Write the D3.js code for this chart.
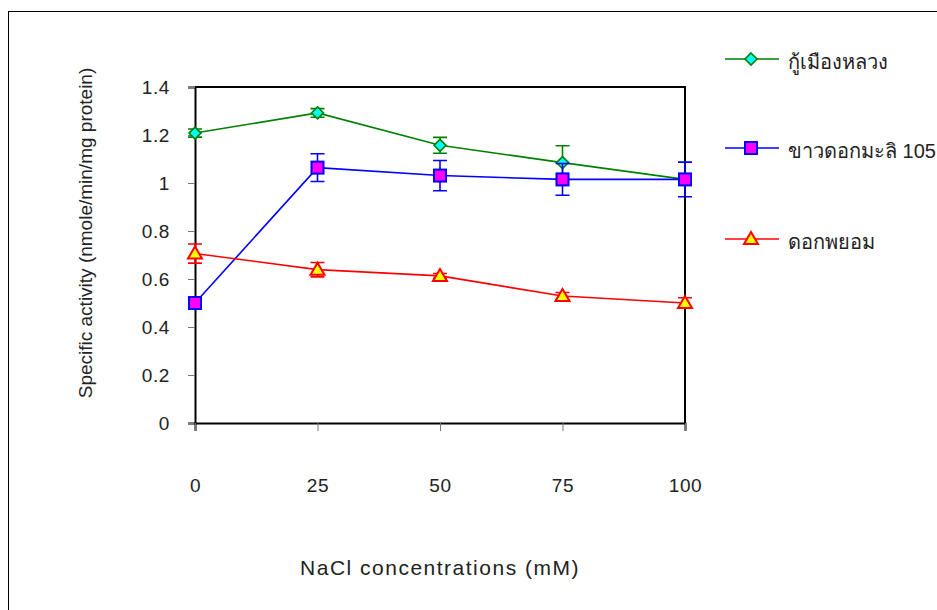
<!DOCTYPE html>
<html>
<head>
<meta charset="utf-8">
<script src="https://cdn.jsdelivr.net/npm/d3@7"></script>
<style>
  body { margin: 0; background: #fff; }
  text { font-family: "Liberation Sans", Arial, sans-serif; fill: #222; }
</style>
</head>
<body>
<script>
'use strict';

// x categories (NaCl mM)
const nacl = [0, 25, 50, 75, 100];
const yTicks = [0, 0.2, 0.4, 0.6, 0.8, 1, 1.2, 1.4];

// series names
const names = ["กู้เมืองหลวง", "ขาวดอกมะลิ 105", "ดอกพยอม"];

// means
const kmlValues = [1.208, 1.292, 1.157, 1.085, 1.015];
const kdmlValues = [0.500, 1.064, 1.031, 1.015, 1.015];
const dpyValues = [0.706, 0.639, 0.613, 0.529, 0.500];

// error (+/-)
const kmlErr = [0.017, 0.018, 0.033, 0.07, 0.01];
const kdmlErr = [0.01, 0.058, 0.063, 0.066, 0.072];
const dpyErr = [0.04, 0.03, 0.01, 0.015, 0.022];

(function () {
  let svg = d3.select('body')
    .append('svg')
    .attr('width', 937)
    .attr('height', 610);

  // outer frame
  svg.append('rect')
    .attr('x', 8.5)
    .attr('y', 11.5)
    .attr('width', 940)
    .attr('height', 610)
    .attr('fill', 'none')
    .attr('stroke', '#000')
    .attr('stroke-width', 1);

  let xScale = d3.scaleLinear().domain([0, 100]).range([195, 685]);
  let yScale = d3.scaleLinear().domain([0, 1.4]).range([423, 87]);

  // frame of plot area (top & right)
  svg.append('path')
    .attr('d', `M${xScale(0)},${yScale(1.4)}H${xScale(100)}V${yScale(0)}`)
    .attr('fill', 'none')
    .attr('stroke', '#000')
    .attr('stroke-width', 2);

  // y axis
  let yAxis = d3.axisLeft(yScale).tickValues(yTicks).tickSize(7).tickPadding(18)
    .tickFormat(d3.format('~g'));
  let gy = svg.append('g')
    .attr('transform', `translate(${xScale(0)},0)`)
    .call(yAxis);
  gy.select('.domain').attr('stroke', '#000').attr('stroke-width', 2);
  gy.selectAll('.tick line').attr('stroke', '#777');
  gy.selectAll('.tick text')
    .style('font-size', '19px')
    .style('font-family', '"Liberation Sans", Arial, sans-serif')
    .style('letter-spacing', '0.6px')
    .attr('fill', '#222');

  // x axis
  let xAxis = d3.axisBottom(xScale).tickValues(nacl).tickSize(8).tickPadding(48);
  let gx = svg.append('g')
    .attr('transform', `translate(0,${yScale(0)})`)
    .call(xAxis);
  gx.select('.domain').attr('stroke', '#000').attr('stroke-width', 2);
  gx.selectAll('.tick line').attr('stroke', '#777');
  gx.selectAll('.tick text')
    .style('font-size', '19px')
    .style('font-family', '"Liberation Sans", Arial, sans-serif')
    .style('letter-spacing', '0.6px')
    .attr('fill', '#222');

  // axis titles
  svg.append('text')
    .attr('x', 440)
    .attr('y', 575)
    .attr('text-anchor', 'middle')
    .style('font-size', '21px')
    .style('letter-spacing', '1.5px')
    .text('NaCl concentrations (mM)');

  svg.append('text')
    .attr('transform', 'translate(92, 233)rotate(-90)')
    .attr('text-anchor', 'middle')
    .style('font-size', '19px')
    .text('Specific activity (nmole/min/mg protein)');

  let series = [
    { name: names[0], values: kmlValues, err: kmlErr, line: '#008000', fill: '#00ffff', shape: 'diamond' },
    { name: names[1], values: kdmlValues, err: kdmlErr, line: '#0000ff', fill: '#ff00ff', shape: 'square' },
    { name: names[2], values: dpyValues, err: dpyErr, line: '#ff0000', fill: '#ffff00', shape: 'triangle' }
  ];

  let line = d3.line()
    .x((d, i) => xScale(nacl[i]))
    .y((d) => yScale(d));

  function drawMarker(g, s, x, y) {
    if (s.shape === 'diamond') {
      g.append('path')
        .attr('d', `M${x},${y - 6}L${x + 6},${y}L${x},${y + 6}L${x - 6},${y}Z`)
        .attr('fill', s.fill).attr('stroke', s.line).attr('stroke-width', 1.6);
    } else if (s.shape === 'square') {
      g.append('rect')
        .attr('x', x - 6).attr('y', y - 6).attr('width', 12).attr('height', 12)
        .attr('fill', s.fill).attr('stroke', s.line).attr('stroke-width', 2);
    } else {
      g.append('path')
        .attr('d', `M${x},${y - 7}L${x + 7},${y + 5}L${x - 7},${y + 5}Z`)
        .attr('fill', s.fill).attr('stroke', s.line).attr('stroke-width', 2);
    }
  }

  series.forEach((s) => {
    let g = svg.append('g');
    g.append('path')
      .datum(s.values)
      .attr('d', line)
      .attr('fill', 'none')
      .attr('stroke', s.line)
      .attr('stroke-width', 1.6);

    // error bars
    s.values.forEach((v, i) => {
      let x = xScale(nacl[i]);
      let y1 = yScale(v + s.err[i]);
      let y2 = yScale(v - s.err[i]);
      g.append('path')
        .attr('d', `M${x},${y1}V${y2}M${x - 7},${y1}H${x + 7}M${x - 7},${y2}H${x + 7}`)
        .attr('fill', 'none')
        .attr('stroke', s.line)
        .attr('stroke-width', 1.6);
    });

    s.values.forEach((v, i) => {
      drawMarker(g, s, xScale(nacl[i]), yScale(v));
    });
  });

  // legend
  let legendY = [59, 148, 239];
  series.forEach((s, i) => {
    let g = svg.append('g');
    g.append('line')
      .attr('x1', 725).attr('x2', 779)
      .attr('y1', legendY[i]).attr('y2', legendY[i])
      .attr('stroke', s.line).attr('stroke-width', 1.6);
    drawMarker(g, s, 751, legendY[i]);
    g.append('text')
      .attr('x', 788)
      .attr('y', legendY[i] + 10)
      .style('font-size', '20px')
      .text(s.name);
  });
})();
</script>
</body>
</html>
